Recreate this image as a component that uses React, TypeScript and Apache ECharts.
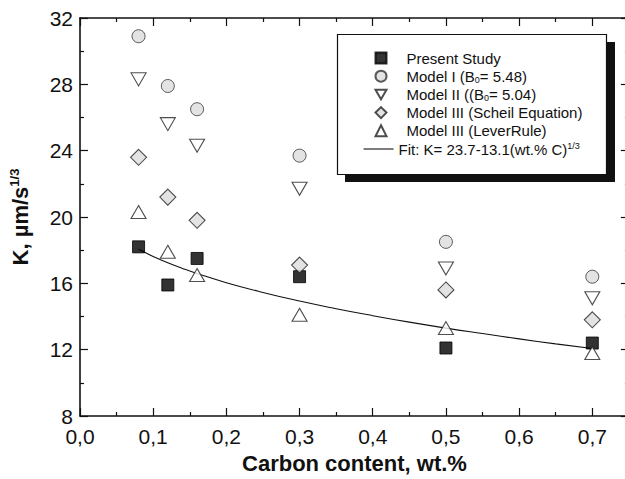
import React, { useEffect, useRef } from "react";
import * as echarts from "echarts";

const carbon = [0.08, 0.12, 0.16, 0.3, 0.5, 0.7];
const presentStudy = [18.2, 15.9, 17.5, 16.4, 12.1, 12.4];
const modelI = [30.9, 27.9, 26.5, 23.7, 18.5, 16.4];
const modelII = [28.3, 25.6, 24.3, 21.7, 16.9, 15.1];
const modelIIIScheil = [23.6, 21.2, 19.8, 17.1, 15.6, 13.8];
const modelIIILever = [20.3, 17.9, 16.5, 14.1, 13.3, 11.8];

const fitX = [0.08, 0.1, 0.12, 0.14, 0.16, 0.2, 0.25, 0.3, 0.35, 0.4, 0.45, 0.5, 0.55, 0.6, 0.65, 0.7];
const fitK = [18.05, 17.62, 17.24, 16.9, 16.59, 16.04, 15.45, 14.93, 14.47, 14.05, 13.66, 13.3, 12.97, 12.65, 12.35, 12.07];

const xTicks = [0, 0.1, 0.2, 0.3, 0.4, 0.5, 0.6, 0.7];
const yTicks = [8, 12, 16, 20, 24, 28, 32];

const names = [
  "Present Study",
  "Model I (B0= 5.48)",
  "Model II ((B0= 5.04)",
  "Model III (Scheil Equation)",
  "Model III (LeverRule)",
  "Fit: K= 23.7-13.1(wt.% C)1/3",
];
const richNames: Record<string, string> = {
  "Present Study": "{n|Present Study}",
  "Model I (B0= 5.48)": "{n|Model I (B}{s|0}{n|= 5.48)}",
  "Model II ((B0= 5.04)": "{n|Model II ((B}{s|0}{n|= 5.04)}",
  "Model III (Scheil Equation)": "{n|Model III (Scheil Equation)}",
  "Model III (LeverRule)": "{n|Model III (LeverRule)}",
  "Fit: K= 23.7-13.1(wt.% C)1/3": "{n|Fit: K= 23.7-13.1(wt.% C)}{p|1/3}",
};

const FONT = "'Liberation Sans', Arial, Helvetica, sans-serif";

const pair = (xs: number[], ys: number[]) => xs.map((x, i) => [x, ys[i]]);

export default function App() {
  const ref = useRef<HTMLDivElement>(null);
  useEffect(() => {
    if (!ref.current) return;
    const chart = echarts.init(ref.current, undefined, { renderer: "svg" });
    const W = 640;
    const axisCommon = {
      type: "value" as const,
      axisLine: { show: true, onZero: false, lineStyle: { color: "#111", width: 1.6 } },
      axisTick: { show: true, inside: true, length: 8, lineStyle: { color: "#111", width: 1.2 } },
      minorTick: { show: true, splitNumber: 2, length: 4, lineStyle: { color: "#111", width: 1.2 } },
      splitLine: { show: false },
      minorSplitLine: { show: false },
    };
    const legendRich = {
      n: { fontSize: 15, lineHeight: 16, color: "#111", fontFamily: FONT },
      s: { fontSize: 9, lineHeight: 16, verticalAlign: "bottom", color: "#111", fontFamily: FONT },
      p: { fontSize: 9, lineHeight: 16, verticalAlign: "top", color: "#111", fontFamily: FONT },
    };
    const fmtX = (v: number) => {
      if (!xTicks.some((t) => Math.abs(t - v) < 1e-6)) return "";
      return v.toFixed(1).replace(".", ",");
    };
    const option: any = {
      animation: false,
      textStyle: { fontFamily: FONT },
      grid: { left: 78.5, top: 18, right: W - 628.9, bottom: 56.5, containLabel: false },
      xAxis: [
        {
          ...axisCommon,
          position: "bottom",
          min: 0,
          max: 0.75,
          interval: 0.1,
          axisLabel: { show: true, fontSize: 21, color: "#111", margin: 10, formatter: fmtX, showMaxLabel: false, fontFamily: FONT },
          name: "Carbon content, wt.%",
          nameLocation: "middle",
          nameGap: 36,
          nameTextStyle: { fontSize: 22, fontWeight: "bold", color: "#111", fontFamily: FONT },
        },
        {
          ...axisCommon,
          position: "top",
          min: 0,
          max: 0.75,
          interval: 0.1,
          axisLabel: { show: false },
        },
      ],
      yAxis: [
        {
          ...axisCommon,
          position: "left",
          min: 8,
          max: 32,
          interval: 4,
          axisLabel: {
            show: true,
            fontSize: 21,
            color: "#111",
            margin: 7,
            fontFamily: FONT,
            formatter: (v: number) => (yTicks.includes(v) ? String(v) : ""),
          },
          name: "{a|K, µm/s}{b|1/3}",
          nameLocation: "middle",
          nameGap: 48,
          nameRotate: 90,
          nameTextStyle: {
            rich: {
              a: { fontSize: 22, fontWeight: "bold", color: "#111", fontFamily: FONT, lineHeight: 24 },
              b: { fontSize: 13, fontWeight: "bold", color: "#111", fontFamily: FONT, verticalAlign: "top", lineHeight: 24 },
            },
          },
        },
        {
          ...axisCommon,
          position: "right",
          min: 8,
          max: 32,
          interval: 4,
          axisLabel: { show: false },
        },
      ],
      legend: [
        {
          data: [
            { name: names[0] },
            { name: names[1] },
            { name: names[2], icon: "path://M0,0L12,0L6,10.4Z" },
            { name: names[3] },
            { name: names[4] },
          ],
          orient: "vertical",
          left: 374.5,
          top: 50,
          itemWidth: 11,
          itemHeight: 11,
          itemGap: 2.2,
          selectedMode: false,
          padding: 0,
          formatter: (n: string) => richNames[n] || n,
          textStyle: { rich: legendRich, fontSize: 15, lineHeight: 16, padding: [0, 0, 0, 15] },
        },
        {
          data: names.slice(5),
          orient: "vertical",
          left: 363,
          top: 141,
          itemWidth: 30,
          itemHeight: 10,
          selectedMode: false,
          padding: 0,
          itemStyle: { opacity: 0 },
          lineStyle: { color: "#111", width: 1.1 },
          formatter: (n: string) => richNames[n] || n,
          textStyle: { rich: legendRich, fontSize: 15, lineHeight: 16 },
        },
      ],
      graphic: [
        { type: "rect", z: 1, shape: { x: 345, y: 42, width: 270, height: 140 }, style: { fill: "#111" } },
        { type: "rect", z: 2, shape: { x: 337.5, y: 34.5, width: 269, height: 140 }, style: { fill: "#fff", stroke: "#111", lineWidth: 1.2 } },
      ],
      series: [
        {
          name: names[5],
          type: "line",
          data: pair(fitX, fitK),
          smooth: true,
          symbol: "none",
          lineStyle: { color: "#111", width: 1.1 },
          itemStyle: { color: "#111" },
          z: 1,
        },
        {
          name: names[0],
          type: "scatter",
          data: pair(carbon, presentStudy),
          symbol: "rect",
          symbolSize: 12,
          itemStyle: { color: "#000", borderColor: "#000", borderWidth: 1 },
          z: 3,
        },
        {
          name: names[1],
          type: "scatter",
          data: pair(carbon, modelI),
          symbol: "circle",
          symbolSize: 13,
          itemStyle: { color: "#dcdcdc", borderColor: "#333", borderWidth: 1 },
          z: 3,
        },
        {
          name: names[2],
          type: "scatter",
          data: pair(carbon, modelII),
          symbol: "triangle",
          symbolRotate: 180,
          symbolSize: [15, 13],
          itemStyle: { color: "#fff", borderColor: "#222", borderWidth: 1.1 },
          z: 3,
        },
        {
          name: names[3],
          type: "scatter",
          data: pair(carbon, modelIIIScheil),
          symbol: "diamond",
          symbolSize: [16, 16],
          itemStyle: { color: "#dcdcdc", borderColor: "#222", borderWidth: 1.1 },
          z: 3,
        },
        {
          name: names[4],
          type: "scatter",
          data: pair(carbon, modelIIILever),
          symbol: "triangle",
          symbolSize: [15, 13],
          itemStyle: { color: "#fff", borderColor: "#222", borderWidth: 1.1 },
          z: 3,
        },
      ],
    };
    chart.setOption(option);
    return () => chart.dispose();
  }, []);
  return (
    <div style={{ position: "fixed", left: 0, top: 0, width: 625, height: 479, overflow: "hidden", background: "#fff" }}>
      <div ref={ref} style={{ width: 640, height: 479 }} />
    </div>
  );
}
